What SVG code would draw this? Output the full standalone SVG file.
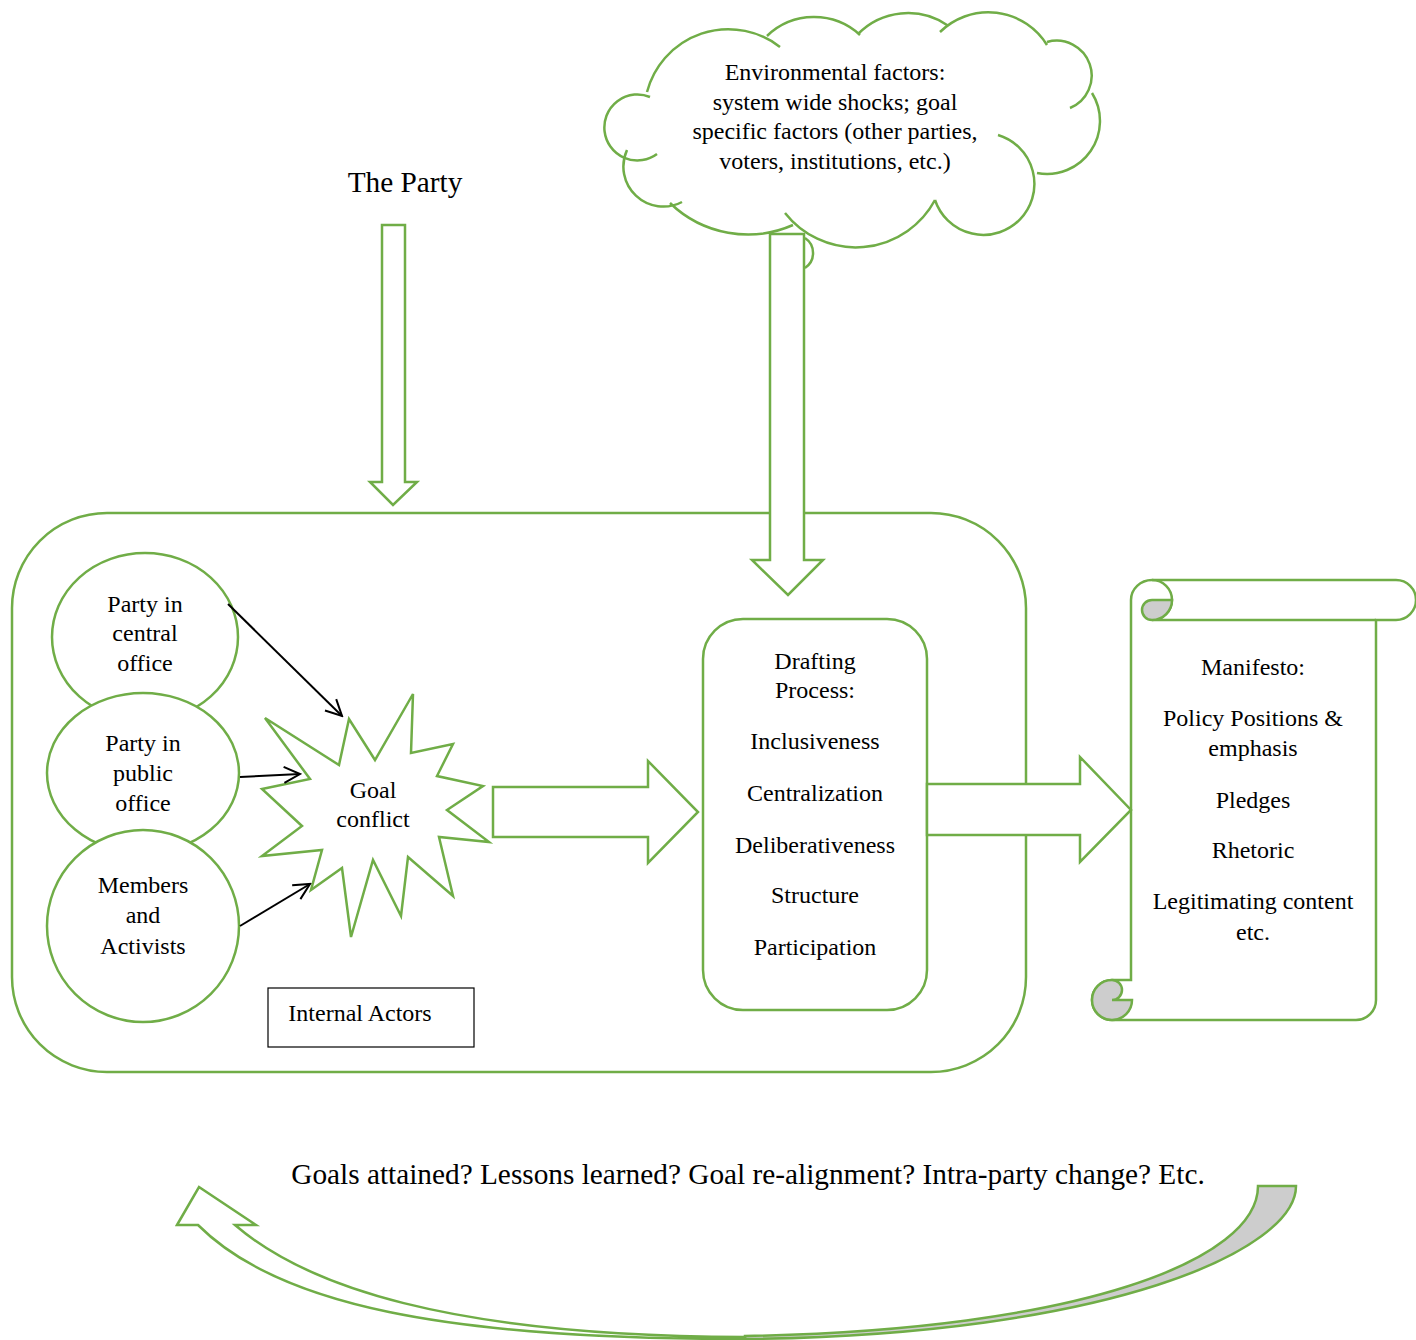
<svg xmlns="http://www.w3.org/2000/svg" width="1416" height="1340" viewBox="0 0 1416 1340">
<defs>
<style>
.g{fill:none;stroke:#70AD47;stroke-width:2.5}
.gw{fill:#fff;stroke:#70AD47;stroke-width:2.5}
.gg{fill:#CDCDCD;stroke:#70AD47;stroke-width:2.5}
.t{font-family:"Liberation Serif","Times New Roman",serif;font-size:24px;fill:#000;text-anchor:middle}
.k{stroke:#000;stroke-width:2;fill:none}
</style>
<marker id="ah" markerUnits="userSpaceOnUse" markerWidth="20" markerHeight="20" viewBox="0 0 20 20" refX="18" refY="10" orient="auto">
<path d="M2,2 L18,10 L2,18" fill="none" stroke="#000" stroke-width="2"/>
</marker>
</defs>
<rect width="1416" height="1340" fill="#fff"/>

<g id="party-box">
<rect class="g" x="12" y="513" width="1014" height="559" rx="95" ry="95"/>
</g>

<g id="cloud">
<path class="g" d="M647 92 A84 84 0 0 1 780 47 M767 36 A68 68 0 0 1 860 35 M858 34 A70 70 0 0 1 947 25 M940 32 A69 69 0 0 1 1047 45 M1047 42 A35 35 0 0 1 1070 108 M1092 93 A53 53 0 0 1 1037 173 M998 135 A51 51 0 1 1 935 200 M935 200 A90 90 0 0 1 785 213 M793 225 A112 112 0 0 1 670 203 M682 202 A40 40 0 0 1 627 150 M657 154 A33 33 0 1 1 650 97 M805 238 A18 18 0 0 1 805 268"/>
<text class="t" x="835" y="80">Environmental factors:</text>
<text class="t" x="835" y="110">system wide shocks; goal</text>
<text class="t" x="835" y="139">specific factors (other parties,</text>
<text class="t" x="835" y="169">voters, institutions, etc.)</text>
</g>

<g id="the-party-label">
<text class="t" x="405" y="192" style="font-size:29.3px">The Party</text>
</g>

<g id="circle-central">
<ellipse class="gw" cx="145" cy="637" rx="93" ry="84"/>
<text class="t" x="145" y="612">Party in</text>
<text class="t" x="145" y="641">central</text>
<text class="t" x="145" y="671">office</text>
</g>
<g id="circle-public">
<ellipse class="gw" cx="143" cy="773" rx="96" ry="80"/>
<text class="t" x="143" y="751">Party in</text>
<text class="t" x="143" y="781">public</text>
<text class="t" x="143" y="811">office</text>
</g>
<g id="circle-members">
<ellipse class="gw" cx="143" cy="926" rx="96" ry="96"/>
<text class="t" x="143" y="893">Members</text>
<text class="t" x="143" y="923">and</text>
<text class="t" x="143" y="954">Activists</text>
</g>

<g id="goal-conflict">
<polygon class="gw" points="265,718 339,765 349,719 375,760 413,694 411,753 453,744 437,776 483,786 447,810 489,842 439,837 453,896 408,857 401,916 373,860 351,937 342,868 311,890 322,850 262,856 302,826 262,789 310,779"/>
<text class="t" x="373" y="798">Goal</text>
<text class="t" x="373" y="827">conflict</text>
</g>

<g id="internal-actors">
<rect x="268" y="988" width="206" height="59" fill="#fff" stroke="#000" stroke-width="1.2"/>
<text class="t" x="360" y="1021">Internal Actors</text>
</g>

<g id="drafting">
<rect class="gw" x="703" y="619" width="224" height="391" rx="40" ry="40"/>
<text class="t" x="815" y="669">Drafting</text>
<text class="t" x="815" y="698">Process:</text>
<text class="t" x="815" y="749">Inclusiveness</text>
<text class="t" x="815" y="801">Centralization</text>
<text class="t" x="815" y="853">Deliberativeness</text>
<text class="t" x="815" y="903">Structure</text>
<text class="t" x="815" y="955">Participation</text>
</g>

<g id="manifesto">
<path class="gw" d="M1131 980 L1131 600 A21 20 0 0 1 1152 580 L1396 580 A20 20 0 0 1 1396 620 L1376 620 L1376 1000 A20 20 0 0 1 1356 1020 L1112 1020 A20 20 0 0 1 1112 980 Z"/>
<path class="g" d="M1152 580 A20 20 0 0 1 1152 620 L1376 620"/>
<path class="gg" d="M1152 600 L1172 600 A20 20 0 0 1 1152 620 A10 10 0 0 1 1152 600 Z"/>
<path class="gg" d="M1112 1000 A10 10 0 0 0 1112 980 A20 20 0 1 0 1132 1000 Z"/>
<text class="t" x="1253" y="675">Manifesto:</text>
<text class="t" x="1253" y="726">Policy Positions &amp;</text>
<text class="t" x="1253" y="756">emphasis</text>
<text class="t" x="1253" y="808">Pledges</text>
<text class="t" x="1253" y="858">Rhetoric</text>
<text class="t" x="1253" y="909">Legitimating content</text>
<text class="t" x="1253" y="940">etc.</text>
</g>

<g id="feedback-label">
<text class="t" x="748" y="1184" style="font-size:29.3px">Goals attained? Lessons learned? Goal re-alignment? Intra-party change? Etc.</text>
</g>

<g id="connectors">
<path class="gw" d="M382 225 L405 225 L405 482 L417 482 L393 505 L370 482 L382 482 Z"/>
<path class="gw" d="M770 234 L804 234 L804 560 L823 560 L788 595 L752 560 L770 560 Z"/>
<path class="gw" d="M493 787 L648 787 L648 761 L698 812 L648 863 L648 837 L493 837 Z"/>
<path class="gw" d="M927 784 L1080 784 L1080 757 L1131 810 L1080 862 L1080 835 L927 835 Z"/>
<line class="k" x1="228" y1="604" x2="342" y2="716" marker-end="url(#ah)"/>
<line class="k" x1="240" y1="777" x2="300" y2="774" marker-end="url(#ah)"/>
<line class="k" x1="240" y1="926" x2="310" y2="884" marker-end="url(#ah)"/>
<path class="gg" d="M1258 1186 L1296 1186 C1296 1250 1110 1335 745 1339 L745 1336 C1080 1330 1258 1260 1258 1186 Z"/>
<path class="gw" d="M177 1225 L199 1187 L256 1225 L235 1225 C305 1285 445 1336 745 1337 L745 1339 C445 1339 278 1305 198 1225 Z"/>
</g>
</svg>
